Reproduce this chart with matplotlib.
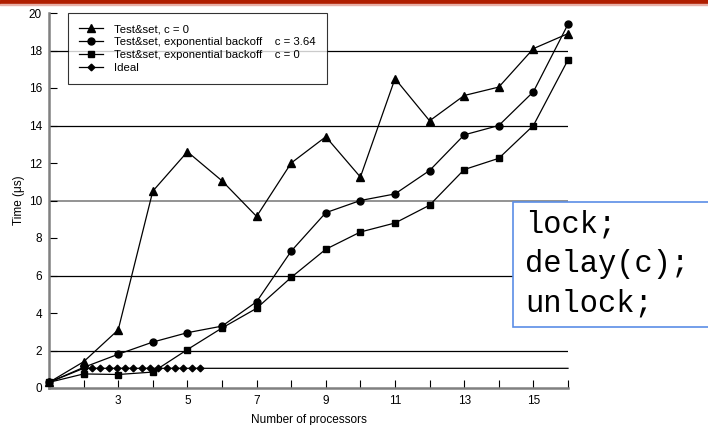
import matplotlib.pyplot as plt
from matplotlib.patches import Rectangle

plt.rcParams['font.family'] = ['Liberation Sans', 'DejaVu Sans']

# Data
procs = [1, 2, 3, 4, 5, 6, 7, 8, 9, 10, 11, 12, 13, 14, 15, 16]
ts_c0 = [0.3, 1.4, 3.1, 10.5, 12.6, 11.05, 9.15, 12.0, 13.4, 11.25, 16.5, 14.25, 15.6, 16.05, 18.1, 18.9]
ts_exp_c364 = [0.3, 1.1, 1.8, 2.45, 2.95, 3.3, 4.6, 7.3, 9.35, 10.0, 10.35, 11.6, 13.5, 14.0, 15.8, 19.4]
ts_exp_c0 = [0.3, 0.75, 0.72, 0.85, 2.05, 3.2, 4.25, 5.9, 7.4, 8.32, 8.8, 9.75, 11.65, 12.25, 14.0, 17.5]
ideal_x = [1, 2, 16]
ideal_y = [0.3, 1.05, 1.05]
ideal_mark_x = [2.0, 2.24, 2.48, 2.72, 2.96, 3.2, 3.44, 3.68, 3.92, 4.16, 4.4, 4.64, 4.88, 5.12, 5.36]
ideal_mark_y = [1.05] * len(ideal_mark_x)

labels = ['Test&set, c = 0',
          'Test&set, exponential backoff    c = 3.64',
          'Test&set, exponential backoff    c = 0',
          'Ideal']
grid_y = [2, 6, 10, 14, 18]
code = 'lock;\ndelay(c);\nunlock;'

W, H = 708, 425
fig = plt.figure(figsize=(W/100, H/100), dpi=100)
ax = fig.add_axes([49/W, 1-388/H, (568-49)/W, (388-13)/H])

# horizontal reference lines
for gy in grid_y:
    c = '#808080' if gy == 10 else 'black'
    ax.axhline(gy, color=c, lw=1.2 if gy == 10 else 0.9, zorder=1)

kw = dict(color='black', lw=0.9, clip_on=False, zorder=3)
ax.plot(procs, ts_c0, marker='^', ms=5.5, label=labels[0], **kw)
ax.plot(procs, ts_exp_c364, marker='o', ms=5.0, label=labels[1], **kw)
ax.plot(procs, ts_exp_c0, marker='s', ms=4.5, label=labels[2], **kw)
ax.plot(ideal_x, ideal_y, **kw)
ax.plot(ideal_mark_x, ideal_mark_y, marker='D', ms=3.4, ls='none', color='black', zorder=3)
# legend handle for Ideal
ax.plot([], [], color='black', lw=0.9, marker='D', ms=3.4, label=labels[3])

ax.set_xlim(1, 16)
ax.set_ylim(0, 20)
ax.set_xticks(range(1, 17))
ax.set_xticklabels(['' if (v % 2 == 0 or v == 1) else str(v) for v in range(1, 17)])
ax.set_yticks(range(0, 21, 2))
ax.tick_params(direction='in', length=6, width=0.8, colors='black', labelsize=8.5, pad=5)
ax.tick_params(axis='x', pad=5)
for s in ['top', 'right']:
    ax.spines[s].set_visible(False)
for s in ['left', 'bottom']:
    ax.spines[s].set_color('#808080')
    ax.spines[s].set_linewidth(1.8)

ax.set_xlabel('Number of processors', fontsize=8.5, labelpad=5)
ax.set_ylabel('Time (\u03bcs)', fontsize=8.5, labelpad=3)

handles, labs = ax.get_legend_handles_labels()
leg = ax.legend(handles, labs, loc='upper left', bbox_to_anchor=(68/W, 1-13/H),
                bbox_transform=fig.transFigure, fontsize=8.2, frameon=True,
                fancybox=False, borderaxespad=0, handlelength=2.1,
                labelspacing=0.25, borderpad=1.0, handletextpad=0.9)
leg.get_frame().set_edgecolor('black')
leg.get_frame().set_linewidth(0.8)
leg.set_zorder(5)

# red bar at top
fig.patches.append(Rectangle((0, 1-4/H), 1, 4/H, transform=fig.transFigure,
                             color='#B01E00', zorder=10))
fig.patches.append(Rectangle((0, 1-5/H), 1, 1/H, transform=fig.transFigure,
                             color='#E8B0A8', zorder=10))

# code box
fig.patches.append(Rectangle((513/W, 1-327/H), 220/W, 125/H, transform=fig.transFigure,
                             facecolor='white', edgecolor='#5B8EE6', lw=1.2, zorder=10))
fig.text(525/W, 1-210/H, code, family=['Liberation Mono', 'DejaVu Sans Mono'], fontsize=22,
         va='top', ha='left', linespacing=1.4, zorder=11)

fig.savefig('out.png', dpi=100)
